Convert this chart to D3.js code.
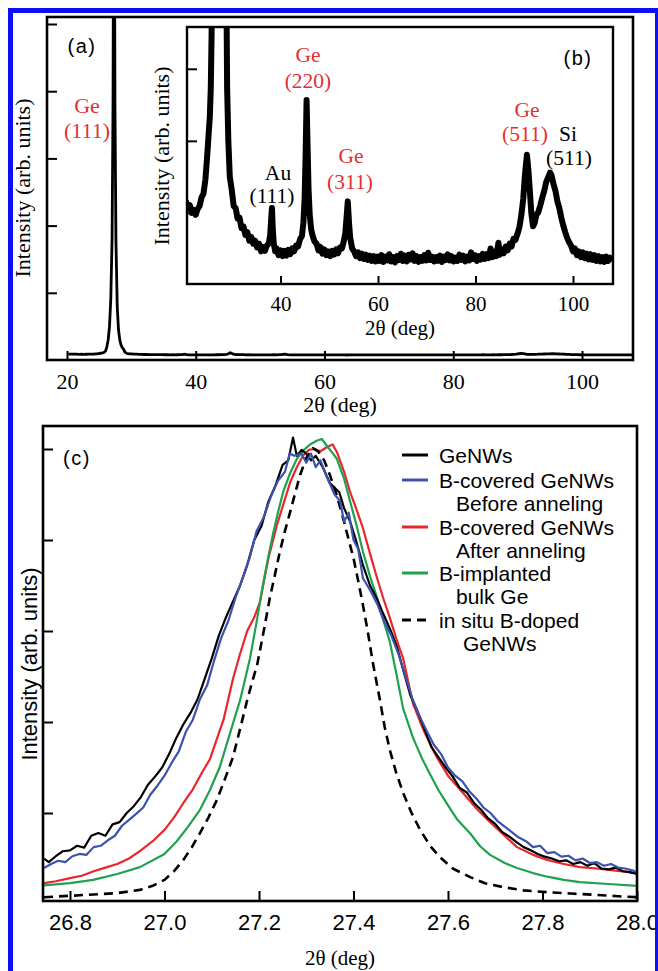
<!DOCTYPE html>
<html><head><meta charset="utf-8">
<script src="https://cdn.jsdelivr.net/npm/d3@7"></script>
<style>
html,body{margin:0;padding:0;background:#fff;}
svg{display:block;}
</style></head>
<body>
<svg id="chart" width="658" height="971"></svg>
<script>
// ---------------- DATA ----------------
// XRD spectrum: [2theta (deg), intensity (counts, arb.)]
const spectrum = [
[20.2,86.8],[20.6,87.4],[21.0,86.0],[21.4,86.6],[21.8,85.0],[22.2,85.6],[22.6,84.6],[23.0,85.8],[23.4,86.4],[23.8,88.2],
[24.2,89.0],[24.6,92.0],[24.9,96.0],[25.2,100.5],[25.5,105],[25.7,111],[25.85,121],[26.0,135],[26.2,200],[26.4,300],
[26.6,500],[26.8,900],[27.0,1800],[27.15,3800],[27.3,9000],[27.45,3800],[27.6,1800],[27.8,800],[28.0,450],[28.2,300],
[28.4,220],[28.6,180],[28.8,160],[28.95,125],[29.05,111],[29.3,100],[29.6,92.5],[30.0,89.8],[30.4,86.4],[30.8,86.0],
[31.2,83.8],[31.6,84.0],[32.0,81.8],[32.4,82.2],[32.8,80.4],[33.2,81.0],[33.6,79.2],[34.0,80.0],[34.4,78.6],[34.8,79.2],
[35.2,77.8],[35.6,78.6],[36.0,77.0],[36.4,77.9],[36.8,77.1],[37.2,78.2],[37.6,78.6],[37.9,80.5],[38.1,84.0],[38.25,86.0],
[38.4,82.0],[38.6,78.8],[38.9,77.0],[39.2,77.6],[39.6,76.2],[40.0,77.2],[40.4,76.0],[40.8,77.1],[41.2,76.1],[41.6,77.3],
[42.0,76.4],[42.4,77.6],[42.8,77.0],[43.2,78.2],[43.6,78.0],[44.0,79.5],[44.4,80.2],[44.7,83.0],[44.95,88.0],[45.15,97.0],
[45.35,108.5],[45.55,99.0],[45.75,90.0],[46.0,84.5],[46.3,81.5],[46.6,80.2],[47.0,79.0],[47.4,78.6],[47.8,77.2],[48.2,77.9],
[48.6,76.5],[49.0,77.4],[49.4,76.2],[49.8,77.0],[50.2,76.0],[50.6,77.1],[51.0,76.3],[51.4,77.4],[51.8,76.6],[52.2,77.8],
[52.6,77.6],[53.0,79.2],[53.3,80.8],[53.55,84.0],[53.8,87.4],[54.05,83.0],[54.3,79.8],[54.7,77.6],[55.1,77.0],[55.5,76.0],
[55.9,76.8],[56.3,75.6],[56.7,76.5],[57.1,75.4],[57.5,76.3],[57.9,75.2],[58.3,76.1],[58.7,75.0],[59.1,76.0],[59.5,74.9],
[59.9,75.9],[60.3,75.0],[60.7,76.2],[61.1,74.8],[61.5,75.9],[61.9,75.1],[62.3,76.4],[62.7,74.9],[63.1,75.8],[63.5,74.7],
[63.9,76.0],[64.3,75.2],[64.7,76.5],[65.1,75.0],[65.5,76.1],[65.9,74.9],[66.3,76.3],[66.7,75.3],[67.1,76.6],[67.5,75.0],
[67.9,76.0],[68.3,74.8],[68.7,75.8],[69.1,75.0],[69.5,76.2],[69.9,75.1],[70.3,76.7],[70.7,75.2],[71.1,75.9],[71.5,74.9],
[71.9,75.8],[72.3,75.0],[72.7,76.1],[73.1,74.8],[73.5,75.9],[73.9,75.2],[74.3,76.4],[74.7,75.1],[75.1,76.0],[75.5,74.9],
[75.9,75.7],[76.3,75.0],[76.7,76.3],[77.1,75.2],[77.5,76.1],[77.9,74.9],[78.3,75.9],[78.7,75.1],[79.1,76.8],[79.5,75.4],
[79.9,76.2],[80.3,75.0],[80.7,76.0],[81.1,75.3],[81.5,76.5],[81.9,75.4],[82.3,76.4],[82.7,75.6],[83.1,77.6],[83.5,75.8],
[83.9,76.9],[84.3,76.0],[84.7,78.8],[85.0,76.3],[85.4,77.4],[85.8,76.6],[86.2,78.0],[86.6,77.2],[87.0,78.6],[87.4,78.0],
[87.8,79.6],[88.2,79.4],[88.6,80.6],[89.0,82.0],[89.4,84.5],[89.8,88.0],[90.15,93.0],[90.55,97.1],[90.85,94.0],[91.15,89.5],
[91.45,85.0],[91.8,82.2],[92.1,82.8],[92.5,84.6],[92.9,85.2],[93.3,86.6],[93.7,88.2],[94.1,89.6],[94.5,91.4],[94.9,92.4],
[95.3,93.4],[95.6,92.8],[96.0,91.0],[96.4,89.6],[96.8,87.4],[97.2,86.0],[97.6,84.0],[98.0,82.4],[98.4,81.0],[98.8,79.8],
[99.2,78.9],[99.6,78.2],[100.0,77.0],[100.4,77.6],[100.8,76.2],[101.2,77.0],[101.6,75.8],[102.0,76.8],[102.4,75.6],[102.8,76.5],
[103.2,75.3],[103.6,76.4],[104.0,75.2],[104.4,76.2],[104.8,75.0],[105.2,76.0],[105.6,74.9],[106.0,75.8],[106.4,74.8],[106.8,75.9],
[107.2,75.0],[107.6,75.7],[108.0,74.9]
];
const xTicksA = [20, 40, 60, 80, 100];
const yTicksA = [1000, 2000, 3000, 4000, 5000];
const xTicksB = [40, 60, 80, 100];
const yTicksB = [85, 100, 115];

// Panel (c): normalized Ge(111) peaks [2theta, normalized intensity]
const geNWs = [
[26.745,0.100],[26.755,0.092],[26.77,0.105],[26.785,0.116],[26.80,0.118],[26.815,0.128],[26.83,0.124],[26.845,0.150],[26.86,0.156],[26.875,0.150],
[26.89,0.175],[26.905,0.180],[26.92,0.200],[26.935,0.215],[26.95,0.235],[26.965,0.262],[26.98,0.280],[26.995,0.300],[27.01,0.330],[27.025,0.365],
[27.04,0.395],[27.055,0.420],[27.07,0.450],[27.085,0.495],[27.10,0.540],[27.115,0.590],[27.13,0.630],[27.145,0.665],[27.16,0.700],[27.175,0.745],
[27.19,0.800],[27.205,0.830],[27.22,0.885],[27.235,0.920],[27.25,0.965],[27.262,0.975],[27.272,1.025],[27.28,0.985],[27.29,0.998],[27.30,0.990],
[27.31,0.975],[27.32,0.985],[27.335,0.960],[27.35,0.925],[27.36,0.915],[27.37,0.905],[27.38,0.870],[27.393,0.840],[27.405,0.800],[27.42,0.745],
[27.435,0.700],[27.45,0.670],[27.462,0.640],[27.477,0.605],[27.492,0.565],[27.505,0.515],[27.52,0.460],[27.535,0.425],[27.55,0.385],[27.565,0.345],
[27.58,0.322],[27.595,0.300],[27.61,0.280],[27.625,0.255],[27.64,0.245],[27.655,0.222],[27.67,0.207],[27.685,0.188],[27.70,0.176],[27.715,0.158],
[27.73,0.148],[27.745,0.136],[27.76,0.125],[27.775,0.118],[27.79,0.110],[27.805,0.104],[27.82,0.100],[27.835,0.094],[27.85,0.096],[27.865,0.088],
[27.88,0.092],[27.895,0.084],[27.91,0.090],[27.925,0.078],[27.94,0.076],[27.955,0.080],[27.97,0.072],[27.985,0.070],[28.0,0.066]
];
const bCoveredBefore = [
[26.745,0.079],[26.76,0.088],[26.775,0.095],[26.79,0.092],[26.805,0.105],[26.82,0.110],[26.835,0.108],[26.85,0.125],[26.865,0.128],[26.88,0.140],
[26.895,0.150],[26.91,0.172],[26.925,0.185],[26.94,0.198],[26.955,0.212],[26.97,0.240],[26.985,0.260],[27.0,0.282],[27.015,0.310],[27.03,0.335],
[27.045,0.378],[27.06,0.405],[27.075,0.450],[27.09,0.480],[27.105,0.535],[27.12,0.585],[27.135,0.622],[27.15,0.672],[27.165,0.715],[27.18,0.760],
[27.195,0.820],[27.21,0.850],[27.225,0.895],[27.24,0.930],[27.255,0.950],[27.265,0.990],[27.275,0.985],[27.29,0.990],[27.30,0.970],[27.31,0.990],
[27.32,0.960],[27.33,0.975],[27.345,0.935],[27.36,0.900],[27.372,0.885],[27.38,0.840],[27.39,0.860],[27.40,0.800],[27.41,0.780],[27.42,0.716],
[27.435,0.690],[27.45,0.660],[27.465,0.620],[27.48,0.590],[27.495,0.550],[27.51,0.500],[27.525,0.450],[27.54,0.412],[27.555,0.380],[27.57,0.350],
[27.585,0.330],[27.60,0.300],[27.615,0.282],[27.63,0.270],[27.645,0.248],[27.66,0.232],[27.675,0.212],[27.69,0.200],[27.705,0.182],[27.72,0.170],
[27.735,0.158],[27.75,0.146],[27.765,0.138],[27.78,0.125],[27.795,0.128],[27.81,0.112],[27.825,0.114],[27.84,0.104],[27.855,0.106],[27.87,0.096],
[27.885,0.100],[27.9,0.090],[27.915,0.092],[27.93,0.084],[27.945,0.088],[27.96,0.080],[27.975,0.078],[27.99,0.074],[28.0,0.070]
];
const bCoveredAfter = [
[26.745,0.046],[26.77,0.050],[26.80,0.057],[26.825,0.062],[26.85,0.072],[26.875,0.080],[26.90,0.088],[26.925,0.100],[26.95,0.118],[26.975,0.138],
[27.0,0.163],[27.02,0.190],[27.04,0.222],[27.06,0.252],[27.08,0.290],[27.096,0.318],[27.11,0.360],[27.125,0.405],[27.145,0.495],[27.16,0.550],
[27.175,0.600],[27.19,0.630],[27.202,0.664],[27.22,0.760],[27.238,0.833],[27.252,0.880],[27.266,0.927],[27.28,0.960],[27.293,0.985],[27.305,0.998],
[27.318,1.000],[27.33,0.995],[27.345,1.005],[27.356,1.010],[27.365,0.993],[27.38,0.950],[27.393,0.905],[27.407,0.865],[27.42,0.826],[27.435,0.770],
[27.45,0.716],[27.463,0.672],[27.477,0.629],[27.49,0.585],[27.505,0.540],[27.526,0.440],[27.55,0.378],[27.576,0.323],[27.6,0.282],[27.632,0.244],
[27.66,0.210],[27.689,0.180],[27.72,0.150],[27.746,0.125],[27.78,0.108],[27.81,0.097],[27.845,0.088],[27.879,0.081],[27.915,0.078],[27.949,0.074],
[27.975,0.071],[28.0,0.067]
];
const bImplantedBulk = [
[26.745,0.041],[26.8,0.046],[26.849,0.053],[26.9,0.066],[26.948,0.081],[27.0,0.110],[27.026,0.138],[27.05,0.170],[27.075,0.207],[27.096,0.250],
[27.117,0.301],[27.14,0.380],[27.16,0.448],[27.181,0.540],[27.195,0.620],[27.208,0.700],[27.22,0.765],[27.23,0.815],[27.24,0.860],[27.251,0.905],
[27.265,0.945],[27.28,0.978],[27.295,0.998],[27.308,1.010],[27.322,1.018],[27.333,1.022],[27.345,1.005],[27.355,0.992],[27.365,0.978],[27.38,0.935],
[27.393,0.884],[27.407,0.830],[27.42,0.774],[27.435,0.720],[27.45,0.673],[27.463,0.625],[27.477,0.576],[27.49,0.510],[27.505,0.430],[27.526,0.365],
[27.545,0.320],[27.562,0.285],[27.58,0.250],[27.598,0.220],[27.62,0.185],[27.647,0.155],[27.668,0.127],[27.689,0.108],[27.72,0.090],[27.746,0.079],
[27.78,0.068],[27.81,0.060],[27.845,0.053],[27.879,0.048],[27.94,0.044],[28.0,0.040]
];
const inSituDoped = [
[26.745,0.015],[26.8,0.018],[26.85,0.021],[26.9,0.024],[26.948,0.031],[26.975,0.040],[27.0,0.053],[27.02,0.072],[27.04,0.097],[27.058,0.125],
[27.075,0.156],[27.093,0.190],[27.111,0.229],[27.128,0.275],[27.145,0.323],[27.16,0.385],[27.175,0.448],[27.186,0.490],[27.196,0.525],[27.21,0.600],
[27.223,0.673],[27.234,0.725],[27.244,0.774],[27.255,0.820],[27.266,0.862],[27.277,0.905],[27.287,0.943],[27.3,0.980],[27.314,1.002],[27.325,0.995],
[27.338,0.975],[27.35,0.943],[27.364,0.900],[27.378,0.848],[27.39,0.800],[27.4,0.760],[27.41,0.710],[27.42,0.657],[27.43,0.600],[27.441,0.530],
[27.456,0.448],[27.466,0.389],[27.477,0.338],[27.49,0.290],[27.505,0.244],[27.523,0.200],[27.541,0.163],[27.562,0.128],[27.583,0.103],[27.61,0.078],
[27.647,0.059],[27.68,0.045],[27.717,0.037],[27.76,0.030],[27.81,0.026],[27.86,0.023],[27.915,0.020],[27.96,0.017],[28.0,0.015]
];
const xTicksC = [26.8, 27.0, 27.2, 27.4, 27.6, 27.8, 28.0];
const yTicksC = [0.2, 0.4, 0.6, 0.8, 1.0];
const seriesNames = ["GeNWs", "B-covered GeNWs", "B-covered GeNWs", "B-implanted", "in situ B-doped"];
const seriesSub = ["", "Before anneling", "After anneling", "bulk Ge", "GeNWs"];

// ---------------- DRAW ----------------
const SERIF = "'Liberation Serif','Times New Roman',serif";
const SANS = "'Liberation Sans',Arial,sans-serif";
const RED = "#e4312f";
const svg = d3.select("#chart");
svg.append("rect").attr("width",658).attr("height",971).attr("fill","#fff");

const defs = svg.append("defs");
function clip(id,x,y,w,h){ defs.append("clipPath").attr("id",id).append("rect").attr("x",x).attr("y",y).attr("width",w).attr("height",h); }
clip("clipA",47,17,586,343);
clip("clipB",187,27,426,257);
clip("clipC",43,426,594,475);

function styleAxis(g, font, size){
  g.select(".domain").remove();
  g.selectAll(".tick line").attr("stroke","#000").attr("stroke-width",2);
  g.selectAll(".tick text").attr("font-family",font).attr("font-size",size).attr("fill","#000");
}

// ----- Panel (a)
const xA = d3.scaleLinear().domain([20,100]).range([67,582]);
const yA = d3.scaleLinear().domain([0,5000]).range([360,24]);
const lineA = d3.line().x(d=>xA(d[0])).y(d=>yA(d[1]));
svg.append("path").datum(spectrum).attr("d",lineA).attr("clip-path","url(#clipA)")
  .attr("fill","none").attr("stroke","#000").attr("stroke-width",2.8).attr("stroke-linejoin","round");
let gA = svg.append("g").attr("transform","translate(0,360)")
  .call(d3.axisBottom(xA).tickValues(xTicksA).tickSizeInner(-9).tickSizeOuter(0).tickPadding(13.4));
styleAxis(gA, SERIF, 22);
let gAy = svg.append("g").attr("transform","translate(47,0)")
  .call(d3.axisLeft(yA).tickValues(yTicksA).tickSizeInner(-10).tickSizeOuter(0).tickFormat(""));
styleAxis(gAy, SERIF, 22);
svg.append("rect").attr("x",47).attr("y",17).attr("width",586).attr("height",343)
  .attr("fill","none").attr("stroke","#000").attr("stroke-width",2.6);
svg.append("text").attr("x",340).attr("y",412).attr("text-anchor","middle")
  .attr("font-family",SERIF).attr("font-size",22).text("2θ (deg)");
svg.append("text").attr("transform","translate(30,188) rotate(-90)").attr("text-anchor","middle")
  .attr("font-family",SERIF).attr("font-size",22).text("Intensity (arb. units)");
svg.append("text").attr("x",82).attr("y",53).attr("text-anchor","middle").attr("letter-spacing",1.5)
  .attr("font-family",SANS).attr("font-size",20).text("(a)");
svg.append("text").attr("x",87).attr("y",113).attr("text-anchor","middle").attr("fill",RED)
  .attr("font-family",SERIF).attr("font-size",22).text("Ge");
svg.append("text").attr("x",87).attr("y",138).attr("text-anchor","middle").attr("fill",RED)
  .attr("font-family",SERIF).attr("font-size",22).text("(111)");

// ----- Inset (b)
const xB = d3.scaleLinear().domain([40,100]).range([280.5,573]);
const yB = d3.scaleLinear().domain([70.2,123.7]).range([284,27]);
svg.append("rect").attr("x",187).attr("y",27).attr("width",426).attr("height",257).attr("fill","#fff");
const lineB = d3.line().x(d=>xB(d[0])).y(d=>yB(d[1]));
svg.append("path").datum(spectrum).attr("d",lineB).attr("clip-path","url(#clipB)")
  .attr("fill","none").attr("stroke","#000").attr("stroke-width",6).attr("stroke-linejoin","round");
let gB = svg.append("g").attr("transform","translate(0,284)")
  .call(d3.axisBottom(xB).tickValues(xTicksB).tickSizeInner(-8).tickSizeOuter(0).tickPadding(12.5));
styleAxis(gB, SERIF, 21);
let gBy = svg.append("g").attr("transform","translate(187,0)")
  .call(d3.axisLeft(yB).tickValues(yTicksB).tickSizeInner(-10).tickSizeOuter(0).tickFormat(""));
styleAxis(gBy, SERIF, 21);
svg.append("rect").attr("x",187).attr("y",27).attr("width",426).attr("height",257)
  .attr("fill","none").attr("stroke","#000").attr("stroke-width",2.4);
svg.append("text").attr("x",400).attr("y",335).attr("text-anchor","middle")
  .attr("font-family",SERIF).attr("font-size",21).text("2θ (deg)");
svg.append("text").attr("transform","translate(169,156) rotate(-90)").attr("text-anchor","middle")
  .attr("font-family",SERIF).attr("font-size",22).text("Intensity (arb. units)");
svg.append("text").attr("x",578).attr("y",65).attr("text-anchor","middle").attr("letter-spacing",1.5)
  .attr("font-family",SANS).attr("font-size",20).text("(b)");
const annB = [
  ["Ge",308,62,RED],["(220)",308,88,RED],
  ["Au",278,180,"#000"],["(111)",272,203,"#000"],
  ["Ge",351,163,RED],["(311)",350,189,RED],
  ["Ge",527,117,RED],["(511)",525,141,RED],
  ["Si",568,141,"#000"],["(511)",569,165,"#000"]
];
annB.forEach(a=>{
  svg.append("text").attr("x",a[1]).attr("y",a[2]).attr("text-anchor","middle").attr("fill",a[3])
    .attr("font-family",SERIF).attr("font-size",21.5).text(a[0]);
});

// ----- Panel (c)
const xC = d3.scaleLinear().domain([26.8,28.0]).range([70,637]);
const yC = d3.scaleLinear().domain([0,1]).range([904,449]);
const lineC = d3.line().x(d=>xC(d[0])).y(d=>yC(d[1]));
const seriesC = [geNWs, bCoveredBefore, bCoveredAfter, bImplantedBulk, inSituDoped];
const colorsC = ["#000000","#3c52ad","#e8262c","#1fa150","#000000"];
const dashC = [null,null,null,null,"9,6"];
const drawOrder = [2,3,4,0,1];
drawOrder.forEach(i=>{
  svg.append("path").datum(seriesC[i]).attr("d",lineC).attr("clip-path","url(#clipC)")
    .attr("fill","none").attr("stroke",colorsC[i]).attr("stroke-width",i===4?2.6:2.2)
    .attr("stroke-dasharray",dashC[i]).attr("stroke-linejoin","round");
});
let gC = svg.append("g").attr("transform","translate(0,901)")
  .call(d3.axisBottom(xC).tickValues(xTicksC).tickSizeInner(-10).tickSizeOuter(0).tickPadding(13.4).tickFormat(d3.format(".1f")));
styleAxis(gC, SANS, 22);
let gCy = svg.append("g").attr("transform","translate(43,0)")
  .call(d3.axisLeft(yC).tickValues(yTicksC).tickSizeInner(-10).tickSizeOuter(0).tickFormat(""));
styleAxis(gCy, SANS, 22);
svg.append("rect").attr("x",43).attr("y",426).attr("width",594).attr("height",475)
  .attr("fill","none").attr("stroke","#000").attr("stroke-width",2.6);
svg.append("text").attr("x",340).attr("y",965).attr("text-anchor","middle")
  .attr("font-family",SERIF).attr("font-size",21).text("2θ (deg)");
svg.append("text").attr("transform","translate(37,664) rotate(-90)").attr("text-anchor","middle")
  .attr("font-family",SANS).attr("font-size",22).text("Intensity (arb. units)");
svg.append("text").attr("x",77).attr("y",465).attr("text-anchor","middle").attr("letter-spacing",1.5)
  .attr("font-family",SANS).attr("font-size",20).text("(c)");

// legend
const legY = [455, 480, 527, 573, 620];
const subX = [456, 456, 456, 456, 463];
seriesNames.forEach((name,i)=>{
  const y = legY[i];
  svg.append("line").attr("x1",402).attr("x2",428).attr("y1",y).attr("y2",y)
    .attr("stroke",colorsC[i]).attr("stroke-width",3).attr("stroke-dasharray",dashC[i]);
  svg.append("text").attr("x",439).attr("y",y+7.5).attr("font-family",SANS).attr("font-size",21).text(name);
  if(seriesSub[i]) svg.append("text").attr("x",subX[i]).attr("y",y+31).attr("font-family",SANS).attr("font-size",21).text(seriesSub[i]);
});

// blue frame
svg.append("rect").attr("x",8).attr("y",8).attr("width",5).attr("height",963).attr("fill","#0a10f5");
svg.append("rect").attr("x",8).attr("y",8).attr("width",650).attr("height",5).attr("fill","#0a10f5");
svg.append("rect").attr("x",655).attr("y",8).attr("width",3).attr("height",963).attr("fill","#0a10f5");
</script>
</body></html>
